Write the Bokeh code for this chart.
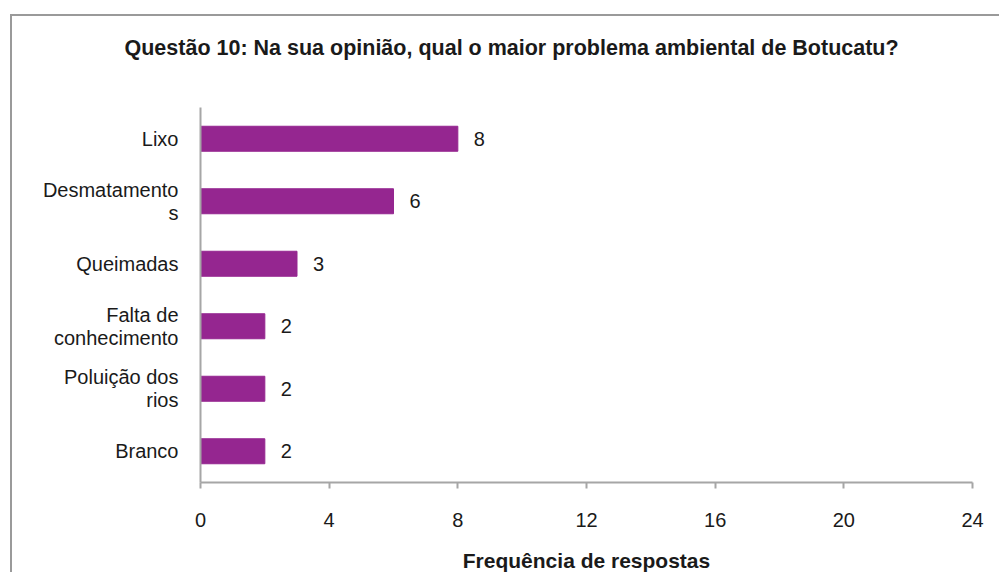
from bokeh.plotting import figure
from bokeh.models import ColumnDataSource, FactorRange, Range1d, LabelSet, FixedTicker, Title
from bokeh.core.properties import value
from bokeh.embed import file_html
from bokeh.resources import INLINE

# category labels as shown on the axis (with the original line breaks)
categories = ["Lixo", "Desmatamento\ns", "Queimadas", "Falta de\nconhecimento", "Poluição dos\nrios", "Branco"]
values = [8, 6, 3, 2, 2, 2]
x_ticks = [0, 4, 8, 12, 16, 20, 24]

title_text = "Questão 10: Na sua opinião, qual o maior problema ambiental de Botucatu?"
x_title = "Frequência de respostas"

FONT = "Liberation Sans"
TXT = "#1a1a1a"
AX = "#a6a6a6"
BAR = "#952690"

src = ColumnDataSource(dict(cat=categories, val=values, lab=[str(v) for v in values]))

p = figure(
    width=989, height=558,
    y_range=FactorRange(factors=list(reversed(categories))),
    x_range=Range1d(0, 24),
    output_backend="svg", toolbar_location=None,
    min_border_left=188, min_border_right=29, min_border_top=91, min_border_bottom=92,
)
p.styles = {"border-left": "2px solid #9a9a9a", "border-top": "2px solid #9a9a9a",
            "margin-left": "10px", "margin-top": "14px"}

# spacer (nearest the frame) then the real title above it
p.add_layout(Title(text=" ", text_font_size="1px", standoff=30), "above")
p.add_layout(Title(text=title_text, align="left", offset=-76, standoff=30,
                   text_font=FONT, text_font_size="21.5px", text_font_style="bold",
                   text_color=TXT), "above")

p.hbar(y="cat", right="val", left=0, height=0.4, source=src, color=BAR, line_color=BAR)

# value labels
p.add_layout(LabelSet(x="val", y="cat", text="lab", source=src, x_offset=16,
                      text_align="left", text_baseline="middle",
                      text_font=value(FONT), text_font_size=value("20px"), text_color=TXT))

p.xgrid.visible = False
p.ygrid.visible = False
p.outline_line_color = None
p.background_fill_color = "white"
p.border_fill_color = "white"

xa = p.xaxis[0]
xa.ticker = FixedTicker(ticks=x_ticks)
xa.minor_tick_line_color = None
xa.major_tick_in = 0
xa.major_tick_out = 6
xa.axis_line_color = AX
xa.axis_line_width = 2
xa.major_tick_line_color = AX
xa.major_tick_line_width = 2
xa.major_label_text_font = FONT
xa.major_label_text_font_size = "20px"
xa.major_label_text_color = TXT
xa.major_label_standoff = 24
xa.axis_label = x_title
xa.axis_label_text_font = FONT
xa.axis_label_text_font_size = "21px"
xa.axis_label_text_font_style = "bold"
xa.axis_label_text_color = TXT
xa.axis_label_standoff = 19

ya = p.yaxis[0]
ya.major_tick_line_color = None
ya.minor_tick_line_color = None
ya.axis_line_color = AX
ya.axis_line_width = 2
ya.major_label_text_font = FONT
ya.major_label_text_font_size = "20px"
ya.major_label_text_color = TXT
ya.major_label_text_line_height = 1.05
ya.major_label_standoff = 16

open("out.html", "w").write(file_html(p, INLINE))
